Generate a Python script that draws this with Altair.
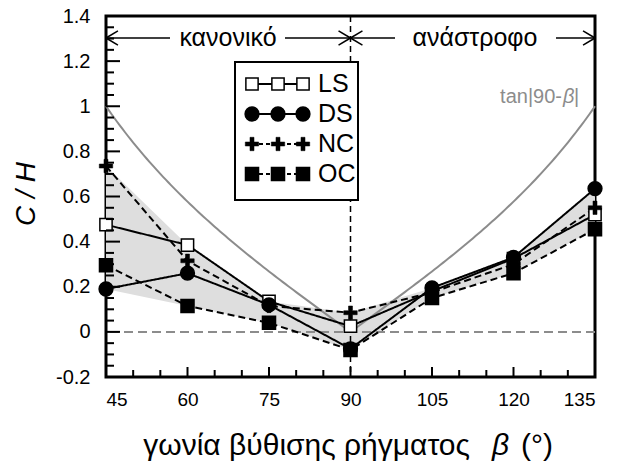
import altair as alt
import numpy as np
import pandas as pd

# ---------------- data ----------------
beta = [45, 60, 75, 90, 105, 120, 135]
LS = [0.475, 0.385, 0.135, 0.025, 0.18, 0.325, 0.52]
DS = [0.19, 0.26, 0.12, -0.075, 0.195, 0.33, 0.635]
NC = [0.735, 0.315, 0.115, 0.085, 0.175, 0.30, 0.55]
OC = [0.295, 0.115, 0.04, -0.08, 0.15, 0.26, 0.455]
series_names = ["LS", "DS", "NC", "OC"]
x_ticks = [45, 60, 75, 90, 105, 120, 135]
y_ticks = [-0.2, 0, 0.2, 0.4, 0.6, 0.8, 1, 1.2, 1.4]
region_labels = ["κανονικό", "ανάστροφο"]
x_title = "γωνία βύθισης ρήγματος"
y_title = "C / H"

# ---------------- layout ----------------
X0, X1, Y0, Y1 = 106, 595, 16, 377
W, H = X1 - X0, Y1 - Y0
FONT = "Liberation Sans"
GRAY = "#8c8c8c"
PLUS = ("M-0.3,-1L0.3,-1L0.3,-0.3L1,-0.3L1,0.3L0.3,0.3L0.3,1L-0.3,1L-0.3,0.3"
        "L-1,0.3L-1,-0.3L-0.3,-0.3Z")


def px_x(px):
    return 45 + (px - X0) * 90.0 / W


def px_y(py):
    return 1.4 - (py - Y0) * 1.6 / H


xscale = alt.Scale(domain=[45, 135], nice=False, zero=False)
yscale = alt.Scale(domain=[-0.2, 1.4], nice=False, zero=False)
xaxis = alt.Axis(values=x_ticks, title=None, grid=False, ticks=False, domain=False,
                 tickSize=0, labelFontSize=19, labelPadding=13, labelFont=FONT,
                 labelColor="black")
yaxis = alt.Axis(values=y_ticks, title=None, grid=False, ticks=False, domain=False,
                 tickSize=0, labelFontSize=20, labelPadding=16, labelFont=FONT,
                 labelColor="black",
                 labelExpr="datum.value < 0 ? '-' + format(-datum.value, '~g') : format(datum.value, '~g')")


def X(f):
    return alt.X(f, type="quantitative", scale=xscale, axis=xaxis)


def Y(f):
    return alt.Y(f, type="quantitative", scale=yscale, axis=yaxis)


values = {"LS": LS, "DS": DS, "NC": NC, "OC": OC}
styles = {
    "LS": dict(dash=[1, 0], shape="square", fill="white", size=150, sw=1.5),
    "DS": dict(dash=[1, 0], shape="circle", fill="black", size=190, sw=1.5),
    "NC": dict(dash=[7, 4], shape=PLUS, fill="black", size=180, sw=0.5),
    "OC": dict(dash=[7, 4], shape="square", fill="black", size=170, sw=1.5),
}

layers = []

# shaded envelope
arr = np.array([LS, DS, NC, OC])
env = pd.DataFrame({"beta": beta, "hi": arr.max(axis=0), "lo": arr.min(axis=0)})
layers.append(alt.Chart(env).mark_area(color="#dedede").encode(
    x=X("beta"), y=Y("hi"), y2=alt.Y2("lo")))

# zero line
layers.append(alt.Chart(pd.DataFrame({"y": [0.0]})).mark_rule(
    color=GRAY, strokeDash=[9, 5], strokeWidth=2).encode(y=Y("y")))

# tan curve
bf = np.arange(45, 135.25, 0.5)
tan_df = pd.DataFrame({"beta": bf, "t": np.tan(np.radians(np.abs(90 - bf)))})
layers.append(alt.Chart(tan_df).mark_line(color=GRAY, strokeWidth=2).encode(
    x=X("beta"), y=Y("t")))

# vertical dashed line at 90
layers.append(alt.Chart(pd.DataFrame({"x": [90]})).mark_rule(
    color="black", strokeDash=[6, 4], strokeWidth=1.5).encode(x=X("x")))

# series lines
for s in series_names:
    df = pd.DataFrame({"beta": beta, "v": values[s]})
    st = styles[s]
    layers.append(alt.Chart(df).mark_line(color="black", strokeWidth=2,
                                          strokeDash=st["dash"]).encode(
        x=X("beta"), y=Y("v")))
# markers
for s in series_names:
    df = pd.DataFrame({"beta": beta, "v": values[s]})
    st = styles[s]
    layers.append(alt.Chart(df).mark_point(shape=st["shape"], filled=True,
                                           fill=st["fill"], stroke="black",
                                           strokeWidth=st["sw"], size=st["size"],
                                           opacity=1).encode(
        x=X("beta"), y=Y("v")))

# legend box
box = pd.DataFrame({"x0": [px_x(235)], "x1": [px_x(358)],
                    "y0": [px_y(62)], "y1": [px_y(200)]})
layers.append(alt.Chart(box).mark_rect(fill="white", stroke="black", strokeWidth=2).encode(
    x=X("x0"), x2=alt.X2("x1"), y=Y("y0"), y2=alt.Y2("y1")))

row_py = [84, 114, 144, 174]
mk_px = [252, 278, 303]
for s, py in zip(series_names, row_py):
    st = styles[s]
    ldf = pd.DataFrame({"x": [px_x(p) for p in mk_px], "y": [px_y(py)] * 3})
    layers.append(alt.Chart(ldf).mark_line(color="black", strokeWidth=2,
                                           strokeDash=st["dash"] if s in ("LS", "DS") else [4, 3]).encode(
        x=X("x"), y=Y("y")))
    layers.append(alt.Chart(ldf).mark_point(shape=st["shape"], filled=True,
                                            fill=st["fill"], stroke="black",
                                            strokeWidth=st["sw"], size=st["size"],
                                            opacity=1).encode(
        x=X("x"), y=Y("y")))
    tdf = pd.DataFrame({"x": [px_x(318)], "y": [px_y(py)], "t": [s]})
    layers.append(alt.Chart(tdf).mark_text(align="left", baseline="middle",
                                           fontSize=25, font=FONT, color="black").encode(
        x=X("x"), y=Y("y"), text="t:N"))

# top arrows
ya = px_y(38)
dx, dy = 2.2, 0.032
segs = [
    (45, ya, px_x(170), ya), (px_x(285), ya, 90, ya),
    (90, ya, px_x(395), ya), (px_x(556), ya, 135, ya),
    (45, ya, 45 + dx, ya + dy), (45, ya, 45 + dx, ya - dy),
    (90, ya, 90 - dx, ya + dy), (90, ya, 90 - dx, ya - dy),
    (90, ya, 90 + dx, ya + dy), (90, ya, 90 + dx, ya - dy),
    (135, ya, 135 - dx, ya + dy), (135, ya, 135 - dx, ya - dy),
]
seg_df = pd.DataFrame(segs, columns=["xa", "ya", "xb", "yb"])
layers.append(alt.Chart(seg_df).mark_rule(color="black", strokeWidth=1.5).encode(
    x=X("xa"), y=Y("ya"), x2=alt.X2("xb"), y2=alt.Y2("yb")))
lab_df = pd.DataFrame({"x": [px_x(228), px_x(475)], "y": [ya, ya], "t": region_labels})
layers.append(alt.Chart(lab_df).mark_text(align="center", baseline="middle", fontSize=25,
                                          font=FONT, color="black").encode(
    x=X("x"), y=Y("y"), text="t:N"))

# tan label
cy = px_y(97)
layers.append(alt.Chart(pd.DataFrame({"x": [px_x(562)], "y": [cy], "t": ["tan|90-"]})).mark_text(
    align="right", baseline="middle", fontSize=20, font=FONT, color=GRAY).encode(
    x=X("x"), y=Y("y"), text="t:N"))
layers.append(alt.Chart(pd.DataFrame({"x": [px_x(563)], "y": [cy], "t": ["β"]})).mark_text(
    align="left", baseline="middle", fontSize=20, font=FONT, fontStyle="italic", color=GRAY).encode(
    x=X("x"), y=Y("y"), text="t:N"))
layers.append(alt.Chart(pd.DataFrame({"x": [px_x(574)], "y": [cy], "t": ["|"]})).mark_text(
    align="left", baseline="middle", fontSize=20, font=FONT, color=GRAY).encode(
    x=X("x"), y=Y("y"), text="t:N"))

# inward ticks
y_major = pd.DataFrame({"v": y_ticks})
y_minor = pd.DataFrame({"v": [round(v, 3) for v in np.arange(-0.2, 1.401, 0.05)
                              if abs(round(v / 0.2) * 0.2 - v) > 1e-6]})
layers.append(alt.Chart(y_major).mark_rule(color="black", strokeWidth=2).encode(
    y=Y("v"), x=alt.value(0), x2=alt.value(14)))
layers.append(alt.Chart(y_minor).mark_rule(color="black", strokeWidth=2).encode(
    y=Y("v"), x=alt.value(0), x2=alt.value(8)))
x_major = pd.DataFrame({"v": x_ticks})
x_minor = pd.DataFrame({"v": [v for v in range(45, 136, 5) if v % 15 != 0]})
layers.append(alt.Chart(x_major).mark_rule(color="black", strokeWidth=2).encode(
    x=X("v"), y=alt.value(H), y2=alt.value(H - 10)))
layers.append(alt.Chart(x_minor).mark_rule(color="black", strokeWidth=2).encode(
    x=X("v"), y=alt.value(H), y2=alt.value(H - 7)))

# axis titles as text
tb = 455 - Y0
layers.append(alt.Chart(pd.DataFrame({"t": [x_title]})).mark_text(
    align="right", baseline="alphabetic", fontSize=30, font=FONT, color="black").encode(
    x=alt.value(470 - X0), y=alt.value(tb), text="t:N"))
layers.append(alt.Chart(pd.DataFrame({"t": ["β"]})).mark_text(
    align="left", baseline="alphabetic", fontSize=30, font=FONT, fontStyle="italic",
    color="black").encode(x=alt.value(492 - X0), y=alt.value(tb), text="t:N"))
layers.append(alt.Chart(pd.DataFrame({"t": ["(°)"]})).mark_text(
    align="left", baseline="alphabetic", fontSize=30, font=FONT, color="black").encode(
    x=alt.value(521 - X0), y=alt.value(tb), text="t:N"))
layers.append(alt.Chart(pd.DataFrame({"t": [y_title]})).mark_text(
    align="center", baseline="middle", fontSize=28, font=FONT, fontStyle="italic",
    angle=270, color="black").encode(
    x=alt.value(27 - X0), y=alt.value(194 - Y0), text="t:N"))

chart = alt.layer(*layers).properties(
    width=W, height=H,
    autosize=alt.AutoSizeParams(type="none"),
    padding={"left": X0, "top": Y0, "right": 623 - X1, "bottom": 463 - Y1},
    background="white",
).configure_view(stroke="black", strokeWidth=3)

chart.save("out.html", embed_options={"renderer": "svg", "actions": False})
